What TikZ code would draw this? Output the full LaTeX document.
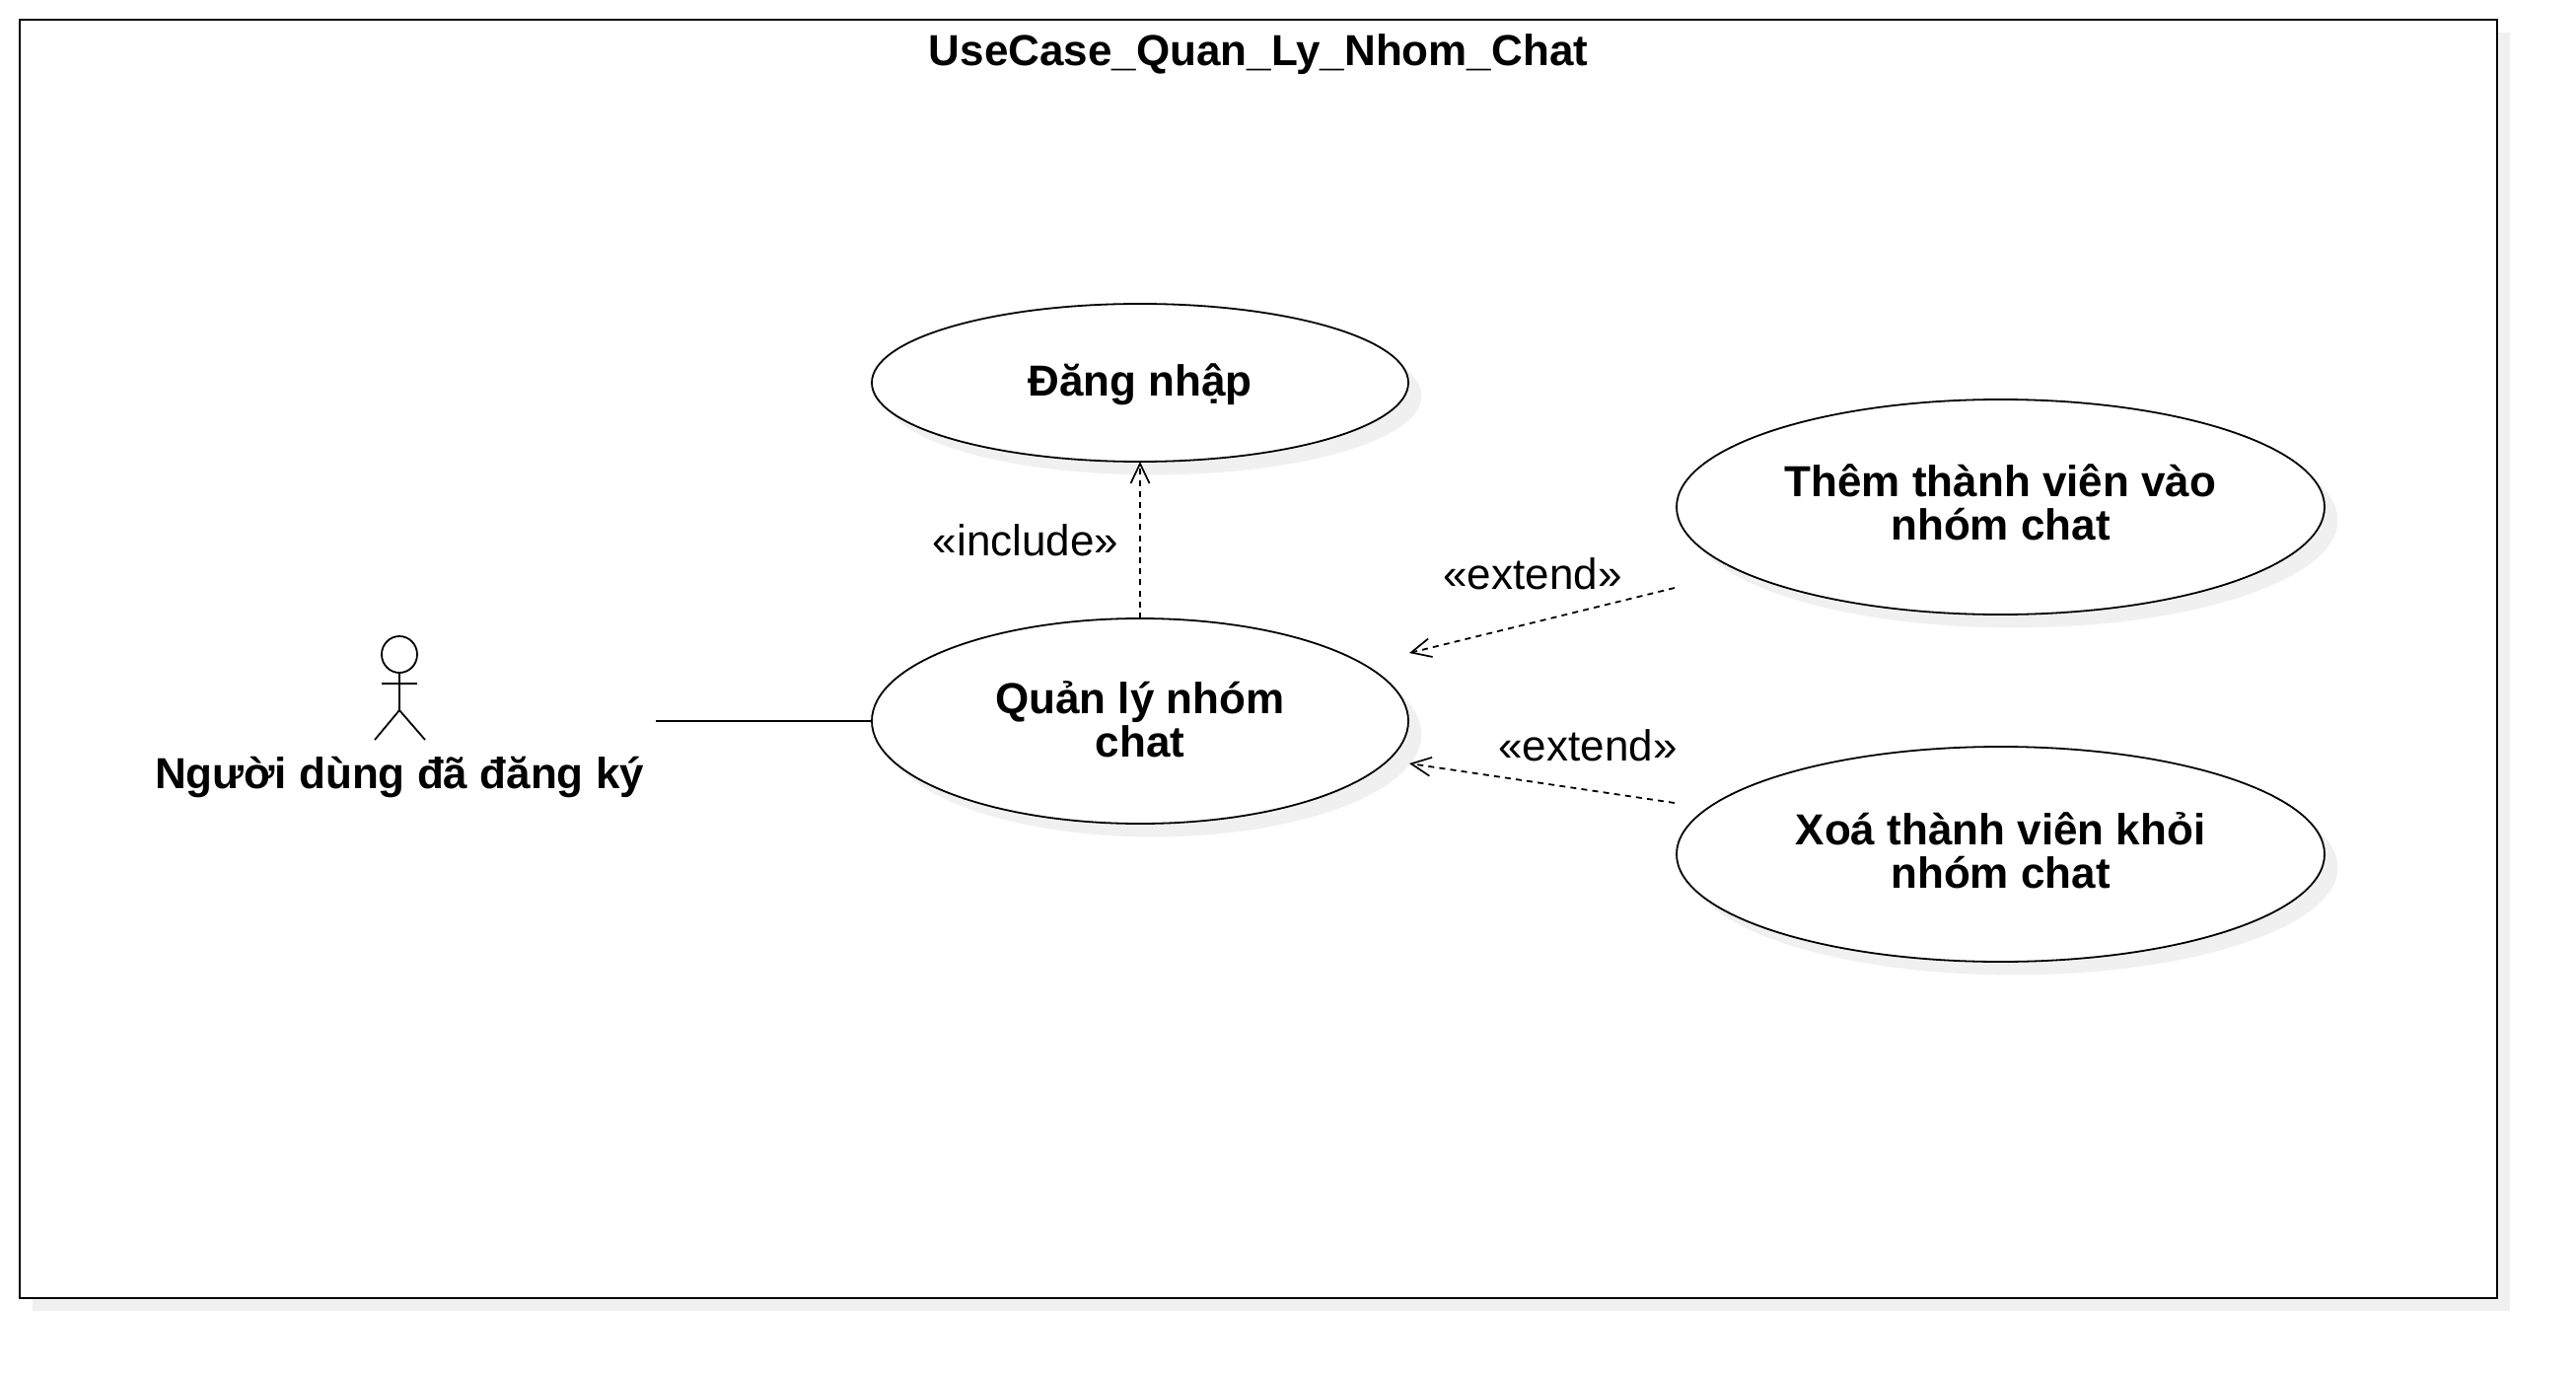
\documentclass[tikz,border=0pt]{standalone}
\usepackage{fontspec}
\setmainfont{Liberation Sans}
\usetikzlibrary{shapes.geometric,shadows,arrows.meta}
\definecolor{shade}{HTML}{F0F0F0}
\newcommand\liftline[2]{\raisebox{#1}[\height][\depth]{#2}}
\tikzset{
  x=0.5pt,y=-0.5pt,
  softshadow/.style={drop shadow={shadow xshift=6.7pt,shadow yshift=-6.7pt,opacity=1,fill=shade}},
  usecase/.style={ellipse,draw=black,fill=white,softshadow,inner sep=0pt,outer sep=0pt,align=center,
    font=\fontsize{22}{22}\selectfont\bfseries},
  boldlabel/.style={inner sep=0pt,align=center,font=\fontsize{22}{22}\selectfont\bfseries},
  stereo/.style={inner sep=0pt,font=\fontsize{22}{22}\selectfont},
  dep/.style={dash pattern=on 3pt off 2.6pt,-{Straight Barb[length=10pt,width=9.5pt,line width=0.85pt]}},
}
\begin{document}
\begin{tikzpicture}[line width=0.9pt]
\useasboundingbox (0,0) rectangle (2612,1396);
\node[draw=black,fill=white,softshadow,rectangle,inner sep=0pt,outer sep=0pt,minimum width=1256pt,minimum height=648pt] (frame) at (1276,668) {};
\node[boldlabel] (title) at (1276,55) {UseCase\_Quan\_Ly\_Nhom\_Chat};

\node[usecase,minimum width=272pt,minimum height=80pt] (dangnhap) at (1156,388) {\liftline{-0.8pt}{Đăng nhập}};
\node[usecase,minimum width=272pt,minimum height=104pt] (quanly) at (1156,731) {\liftline{1pt}{Quản lý nhóm}\\\liftline{1pt}{chat}};
\node[usecase,minimum width=328.5pt,minimum height=109pt] (them) at (2028.5,514) {\liftline{2.5pt}{Thêm thành viên vào}\\\liftline{2.5pt}{nhóm chat}};
\node[usecase,minimum width=328.5pt,minimum height=109pt] (xoa) at (2028.5,866) {\liftline{2pt}{Xoá thành viên khỏi}\\\liftline{2pt}{nhóm chat}};

% actor
\draw (405,663.5) ellipse (18 and 18.5);
\draw (405,682) -- (405,720);
\draw (387,693) -- (423,693);
\draw (380,750) -- (405,720) -- (431,750);
\node[boldlabel] (actorlabel) at (405,788) {Người dùng đã đăng ký};

\coordinate (actorport) at (665,731);
\coordinate (ext1tail) at (1698,596);
\coordinate (ext1head) at (1429,662);
\coordinate (ext2tail) at (1698,814);
\coordinate (ext2head) at (1429,774);

\draw (actorport) -- (quanly.west);
\draw[dep] (quanly.north) -- (dangnhap.south);
\draw[dep] (ext1tail) -- (ext1head);
\draw[dep] (ext2tail) -- (ext2head);

\node[stereo] (inc) at (1040,548) {«include»};
\node[stereo] (ext1) at (1554,582) {«extend»};
\node[stereo] (ext2) at (1610,756) {«extend»};
\end{tikzpicture}
\end{document}
